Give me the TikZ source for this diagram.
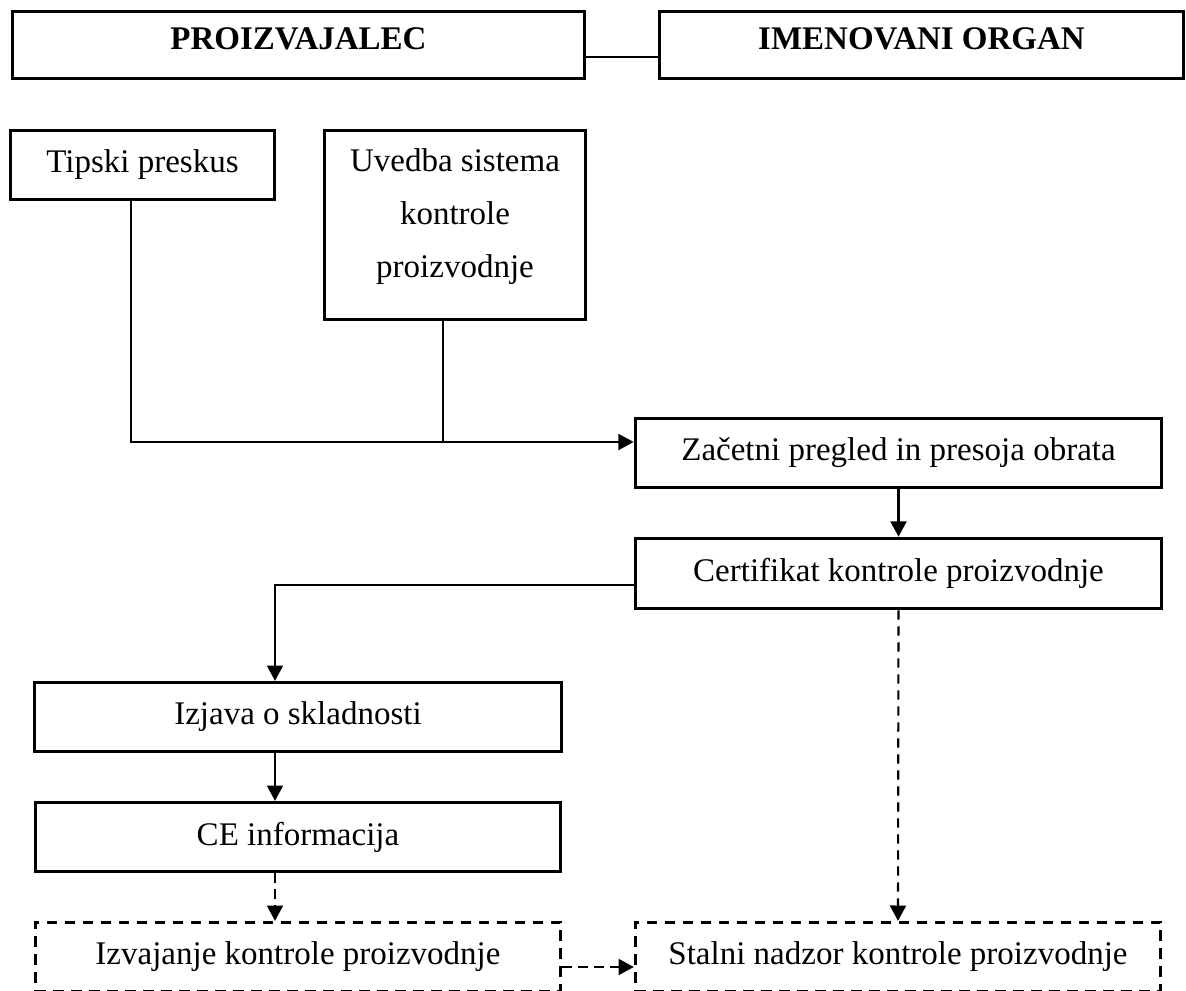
\documentclass[tikz,border=0pt]{standalone}
\usepackage{fontspec}
\setmainfont{Liberation Serif}
\usetikzlibrary{arrows.meta}
\begin{document}
\begin{tikzpicture}[x=0.75pt,y=-0.75pt,
  txt/.style={font=\fontsize{24.75pt}{39.75pt}\selectfont},
  box/.style={draw, line width=2.25pt, txt, inner sep=0pt},
  dbox/.style={box, dash pattern=on 8pt off 5.5pt},
  conn/.style={line width=1.6pt},
  arr/.style={conn, -{Triangle[length=11.5pt,width=12pt]}},
  darr/.style={arr, dash pattern=on 7pt off 5pt},
  head/.style={box, font=\fontsize{24.75pt}{30pt}\selectfont\bfseries, text height=16.5pt, text depth=9pt}]
\useasboundingbox (0,0) rectangle (1186,991);
% top boxes
\node[head, minimum width=429pt, minimum height=50.5pt] (proiz) at (298.5,45) {PROIZVAJALEC};
\node[head, minimum width=393pt, minimum height=50.5pt] (imen) at (921.5,45) {IMENOVANI ORGAN};
\coordinate (t1) at (620,57);
\draw[conn] (proiz.east |- t1) -- (imen.west |- t1);
% upper left boxes
\node[box, minimum width=197.5pt, minimum height=52pt] (tp) at (142.5,165) {Tipski preskus};
\node[box, minimum width=196pt, minimum height=142pt] (uv) at (455,225) {};
\node[txt, align=center, inner sep=0pt] (uvt) at (455,217) {Uvedba sistema\\kontrole\\proizvodnje};
% right column
\node[box, minimum width=395pt, minimum height=52pt] (zac) at (898.5,453) {Začetni pregled in presoja obrata};
\node[box, minimum width=395pt, minimum height=53pt] (cert) at (898.5,573.5) {Certifikat kontrole proizvodnje};
% left column
\node[box, minimum width=395.5pt, minimum height=52pt] (izj) at (298,717) {Izjava o skladnosti};
\node[box, minimum width=394pt, minimum height=52pt] (ce) at (298,837) {CE informacija};
% dashed boxes
\node[dbox, minimum width=394pt, minimum height=52pt] (izv) at (298,957) {Izvajanje kontrole proizvodnje};
\node[dbox, minimum width=394pt, minimum height=52pt] (sta) at (898,957) {Stalni nadzor kontrole proizvodnje};
% connectors
\coordinate (j1) at (131,442);
\coordinate (j2) at (443,442);
\draw[conn] (tp.south -| j1) -- (j1) -- (j2);
\draw[conn] (uv.south -| j2) -- (j2);
\draw[arr] (j2) -- (zac.west |- j2);
\draw[arr] (zac.south) -- (cert.north);
\coordinate (c1) at (275,585);
\draw[arr] (cert.west |- c1) -- (c1) -- (izj.north -| c1);
\draw[arr] (izj.south -| c1) -- (ce.north -| c1);
\draw[darr] (ce.south -| c1) -- (izv.north -| c1);
\draw[darr] (cert.south) -- (sta.north);
\coordinate (d1) at (600,967);
\draw[darr] (izv.east |- d1) -- (sta.west |- d1);
\end{tikzpicture}
\end{document}
